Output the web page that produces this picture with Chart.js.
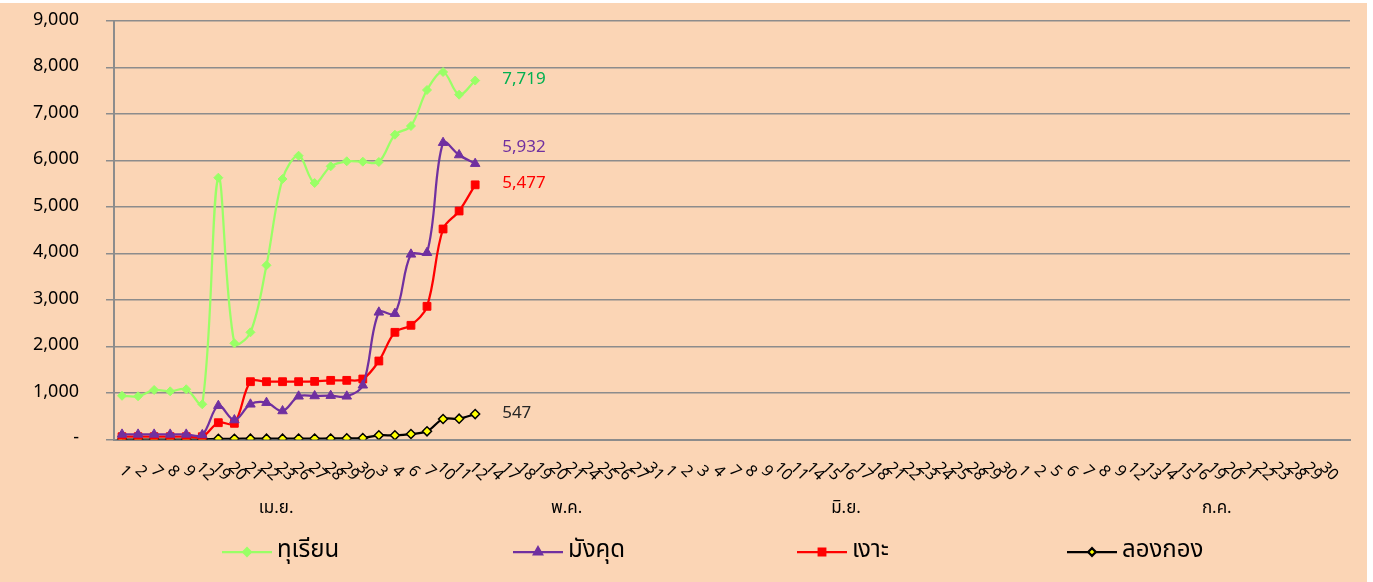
<!DOCTYPE html>
<html>
<head>
<meta charset="utf-8">
<script src="https://cdn.jsdelivr.net/npm/chart.js@4.4.0/dist/chart.umd.min.js"></script>
<style>
    html, body { margin: 0; padding: 0; background: #ffffff; }
    #wrap { position: absolute; left: 0; top: 3px; width: 1367px; height: 579px; background: #FBD5B5; }
</style>
</head>
<body>
<div id="wrap"><canvas id="fruitChart" width="1367" height="579"></canvas></div>
<script>
// Day labels per month
const aprDays = [1, 2, 7, 8, 9, 12, 19, 20, 21, 22, 23, 26, 27, 28, 29, 30];
const mayDays = [3, 4, 6, 7, 10, 11, 12, 14, 17, 18, 19, 20, 21, 24, 25, 26, 27, 31];
const junDays = [1, 2, 3, 4, 7, 8, 9, 10, 11, 14, 15, 16, 17, 18, 21, 22, 23, 24, 25, 28, 29, 30];
const julDays = [1, 2, 5, 6, 7, 8, 9, 12, 13, 14, 15, 16, 19, 20, 21, 22, 23, 28, 29, 30];
const monthNames = ['เม.ย.', 'พ.ค.', 'มิ.ย.', 'ก.ค.'];

// Series
const seriesNames = ['ทุเรียน', 'มังคุด', 'เงาะ', 'ลองกอง'];
const durian = [940, 930, 1065, 1036, 1080, 757, 5630, 2069, 2305, 3746, 5602, 6103, 5516, 5875, 5983, 5975, 5968, 6555, 6742, 7516, 7903, 7415, 7719];
const mangosteen = [110, 110, 110, 110, 110, 100, 727, 419, 757, 792, 613, 929, 936, 943, 929, 1166, 2735, 2706, 3982, 4017, 6383, 6118, 5932];
const rambutan = [60, 60, 60, 60, 60, 60, 361, 348, 1243, 1243, 1243, 1243, 1250, 1272, 1272, 1301, 1688, 2305, 2456, 2864, 4527, 4914, 5477];
const longkong = [0, 0, 0, 0, 0, 0, 15, 15, 18, 18, 18, 20, 20, 22, 25, 32, 90, 90, 118, 176, 441, 448, 547];

// Y axis ticks
const yMax = 9000;
const yStep = 1000;

const FONT = '"Noto Sans Thai", "Noto Sans", "DejaVu Sans", sans-serif';

const dayLabels = [...aprDays, ...mayDays, ...junDays, ...julDays].map(String);
dayLabels.push('');
const monthSizes = [aprDays.length, mayDays.length, junDays.length, julDays.length];

const fmt = v => v === 0 ? '-' : v.toLocaleString('en-US');

// X labels, month labels, end labels, legend
const extrasPlugin = {
    id: 'extras',
    afterDraw(chart) {
        const ctx = chart.ctx;
        const xs = chart.scales.x;
        const area = chart.chartArea;
        ctx.save();

        // rotated day labels
        ctx.fillStyle = '#000';
        ctx.font = '16px ' + FONT;
        ctx.textAlign = 'center';
        ctx.textBaseline = 'middle';
        dayLabels.forEach((lab, i) => {
            if (!lab) return;
            const x = xs.getPixelForValue(i) + 2;
            ctx.save();
            ctx.translate(x, area.bottom + 33);
            ctx.rotate(Math.PI / 4);
            ctx.fillText(lab, 0, 0);
            ctx.restore();
        });

        // month labels (Excel places them a little right of group centre)
        const shift = [2.1, 3.2, 0.6, 2.7];
        ctx.font = '17px ' + FONT;
        let start = 0;
        monthSizes.forEach((n, m) => {
            const centre = start + n / 2 - 0.5 + shift[m];
            ctx.fillText(monthNames[m], xs.getPixelForValue(centre), area.bottom + 70);
            start += n;
        });

        // end value labels
        const labelColors = ['#00B050', '#7030A0', '#FF0000', '#262626'];
        const dy = [0, -15, 0, 0];
        ctx.font = '17px ' + FONT;
        ctx.textAlign = 'left';
        chart.data.datasets.forEach((ds, d) => {
            const meta = chart.getDatasetMeta(d);
            const last = meta.data[meta.data.length - 1];
            ctx.fillStyle = labelColors[d];
            ctx.fillText(fmt(ds.data[ds.data.length - 1]), last.x + 27, last.y + dy[d]);
        });

        // legend
        const legX = [222, 513, 797, 1067];
        const legY = 549;
        chart.data.datasets.forEach((ds, d) => {
            const x0 = legX[d];
            ctx.strokeStyle = ds.borderColor;
            ctx.lineWidth = 2.25;
            ctx.beginPath();
            ctx.moveTo(x0, legY);
            ctx.lineTo(x0 + 50, legY);
            ctx.stroke();
            ctx.fillStyle = ds.pointBackgroundColor;
            ctx.strokeStyle = ds.pointBorderColor;
            Chart.helpers.drawPoint(ctx, {
                pointStyle: ds.pointStyle,
                radius: ds.pointRadius * 0.85,
                borderWidth: ds.pointBorderWidth,
                rotation: 0
            }, x0 + 25, legY);
            ctx.fillStyle = '#000';
            ctx.font = '24px ' + FONT;
            ctx.textAlign = 'left';
            ctx.fillText(ds.label, x0 + 55, legY);
        });
        ctx.restore();
    }
};

const mk = (label, data, color, style, radius, fill, border, bw) => ({
    label: label,
    data: data,
    borderColor: color,
    borderWidth: 2.25,
    tension: 0.35,
    pointStyle: style,
    pointRadius: radius,
    pointHoverRadius: radius,
    pointBackgroundColor: fill,
    pointBorderColor: border,
    pointBorderWidth: bw
});

new Chart(document.getElementById('fruitChart'), {
    type: 'line',
    data: {
        labels: dayLabels,
        datasets: [
            mk(seriesNames[0], durian, '#99FF66', 'rectRot', 4.5, '#99FF66', '#99FF66', 1),
            mk(seriesNames[1], mangosteen, '#7030A0', 'triangle', 5.5, '#7030A0', '#7030A0', 1),
            mk(seriesNames[2], rambutan, '#FF0000', 'rect', 5.5, '#FF0000', '#FF0000', 1),
            mk(seriesNames[3], longkong, '#000000', 'rectRot', 4.5, '#FFFF00', '#000000', 1.5)
        ]
    },
    options: {
        responsive: false,
        animation: false,
        events: [],
        layout: { padding: { top: 18, right: 17, left: 0, bottom: 0 } },
        plugins: {
            legend: { display: false },
            tooltip: { enabled: false }
        },
        scales: {
            x: {
                offset: true,
                grid: { display: false, drawTicks: false },
                border: { color: '#8C8C8C', width: 2 },
                ticks: { display: false },
                afterFit: s => { s.height = 579 - 436.5; }
            },
            y: {
                min: 0,
                max: yMax,
                grid: { color: '#8C8C8C', lineWidth: 1.5, tickLength: 8 },
                border: { color: '#8C8C8C', width: 2 },
                ticks: {
                    stepSize: yStep,
                    padding: 27,
                    color: '#000',
                    font: { family: FONT, size: 18 },
                    callback: v => fmt(v)
                },
                afterFit: s => {
                    s.width = 114;
                    s.paddingTop = 0;
                    s.paddingBottom = 0;
                }
            }
        }
    },
    plugins: [extrasPlugin]
});
</script>
</body>
</html>
